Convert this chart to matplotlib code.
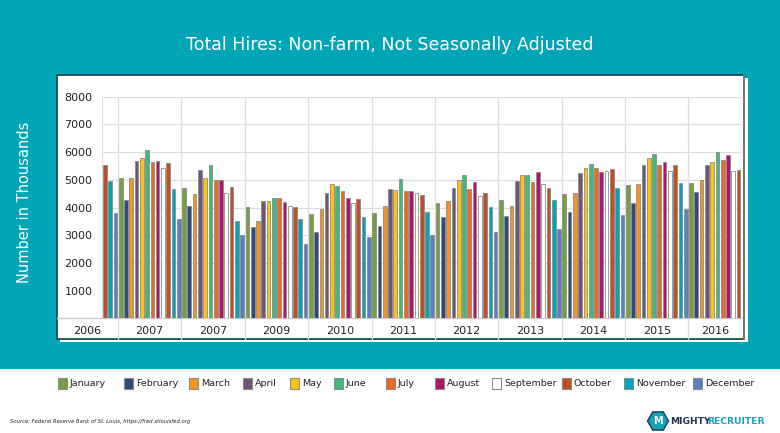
import numpy as np
import matplotlib
matplotlib.use("Agg")
import matplotlib.pyplot as plt
from matplotlib.patches import Rectangle, RegularPolygon
import matplotlib.transforms as mtransforms

# ---------------- data (thousands of hires) ----------------
months = ["January", "February", "March", "April", "May", "June", "July",
          "August", "September", "October", "November", "December"]
month_colors = ["#76A03A", "#2F4A7C", "#F7941D", "#6E5678", "#FFC20E", "#3DBB78",
                "#F26522", "#B0146B", "#FFFFFF", "#C0501F", "#00A5BA", "#5B80C0"]

hires_2006 = [5540, 4940, 3800]  # Oct-Dec
hires_2007 = [5080, 4280, 5060, 5690, 5780, 6070, 5640, 5690, 5420, 5590, 4650, 3590]
hires_2008 = [4720, 4070, 4480, 5370, 5080, 5540, 4980, 4980, 4540, 4750, 3520, 3010]
hires_2009 = [4020, 3300, 3510, 4250, 4220, 4330, 4330, 4190, 4040, 4010, 3570, 2690]
hires_2010 = [3760, 3100, 3940, 4540, 4840, 4760, 4580, 4340, 4170, 4310, 3670, 2950]
hires_2011 = [3810, 3330, 4070, 4670, 4640, 5040, 4580, 4610, 4510, 4450, 3840, 3010]
hires_2012 = [4160, 3650, 4220, 4720, 5000, 5190, 4670, 4930, 4420, 4540, 4020, 3110]
hires_2013 = [4270, 3700, 4060, 4960, 5170, 5160, 4930, 5280, 4860, 4700, 4280, 3240]
hires_2014 = [4470, 3820, 4510, 5230, 5420, 5580, 5410, 5280, 5310, 5400, 4690, 3730]
hires_2015 = [4820, 4160, 4840, 5540, 5780, 5940, 5520, 5650, 5300, 5530, 4890, 3930]
hires_2016 = [4870, 4550, 5010, 5520, 5660, 5990, 5710, 5880, 5300, 5370]  # Jan-Oct

year_labels = ["2006", "2007", "2007", "2009", "2010", "2011", "2012",
               "2013", "2014", "2015", "2016"]
y_ticks = [1000, 2000, 3000, 4000, 5000, 6000, 7000, 8000]

title = "Total Hires: Non-farm, Not Seasonally Adjusted"
ylabel = "Number in Thousands"
source = "Source: Federal Reserve Bank of St. Louis, https://fred.stlouisfed.org"

values = np.array(hires_2006 + hires_2007 + hires_2008 + hires_2009 + hires_2010 +
                  hires_2011 + hires_2012 + hires_2013 + hires_2014 + hires_2015 +
                  hires_2016, dtype=float)
first_month = 9  # October (0-based)
month_idx = [(first_month + i) % 12 for i in range(len(values))]
bar_colors = [month_colors[m] for m in month_idx]

# ---------------- figure ----------------
W, H = 780, 433
TEAL = "#00A6B6"
fig = plt.figure(figsize=(W / 100, H / 100), dpi=100)
fig.patch.set_facecolor("white")

# background axes in pixel coordinates
bg = fig.add_axes([0, 0, 1, 1], zorder=-5)
bg.set_xlim(0, W)
bg.set_ylim(H, 0)
bg.axis("off")

bg.add_patch(Rectangle((0, 0), W, 369, facecolor=TEAL, edgecolor="none"))
# white panel with offset shadow
bg.add_patch(Rectangle((60, 78), 688, 264, facecolor="white", edgecolor="none"))
bg.add_patch(Rectangle((57, 75), 687, 264, facecolor="white", edgecolor="#1d4a50", lw=1.3))
bg.plot([744, 744], [75, 339], color="#7a7a7a", lw=1.3)

bg.text(390, 45, title, color="white", fontsize=12.5, ha="center", va="center",
        family="DejaVu Sans")
bg.text(25, 202, ylabel, color="white", fontsize=10.5, rotation=90,
        ha="center", va="center", family="DejaVu Sans")

# ---------------- main axes ----------------
x0, x1 = 102.2, 741.2
ytop, ybot = 96.7, 318.3
ax = fig.add_axes([x0 / W, 1 - ybot / H, (x1 - x0) / W, (ybot - ytop) / H], zorder=2)
ax.patch.set_alpha(0)
n = len(values)
ax.set_xlim(0, n)
ax.set_ylim(0, 8000)
for s in ax.spines.values():
    s.set_visible(False)

ax.set_yticks(y_ticks)
ax.set_yticklabels([str(t) for t in y_ticks], fontsize=8, color="#222222")
ax.tick_params(axis="y", length=0, pad=7)
ax.set_xticks([])

for t in y_ticks:
    ax.axhline(t, color="#dddddd", lw=0.9, zorder=0)
ax.axvline(0, color="#dddddd", lw=0.9, zorder=0)

# vertical separators at January of each year, extending into label row
blend = mtransforms.blended_transform_factory(ax.transData, fig.transFigure)
jan_pos = [i for i in range(n) if month_idx[i] == 0]
for p in jan_pos:
    ax.plot([p, p], [1 - ytop / H, 1 - 340 / H], transform=blend, color="#dddddd",
            lw=0.9, clip_on=False, zorder=0)
# baseline extends to panel edge
px_per = (x1 - x0) / n
left_data = (57 - x0) / px_per
ax.plot([left_data, n], [0, 0], color="#cccccc", lw=1.0, clip_on=False, zorder=1)

# bars
xs = np.arange(n) + 0.5
ax.bar(xs, values, width=0.7, color=bar_colors, edgecolor="#8c8c8c", lw=0.6, zorder=3)

# year labels centered in visible year bands
bounds = [left_data] + jan_pos + [n]
for k, lab in enumerate(year_labels):
    c = (bounds[k] + bounds[k + 1]) / 2
    ax.text(c, 1 - 331 / H, lab, transform=blend, ha="center", va="center",
            fontsize=8, color="#222222", clip_on=False)

# ---------------- legend ----------------
swatch_x = [62, 128, 193, 247, 294, 338, 390, 439, 496, 566, 628, 697]
for xm, name, col in zip(swatch_x, months, month_colors):
    bg.add_patch(Rectangle((xm - 4, 378), 8.5, 11, facecolor=col, edgecolor="#8a8a8a", lw=0.8))
    bg.text(xm + 8, 384, name, fontsize=6.8, color="#222222", ha="left", va="center")

bg.text(10, 422, source, fontsize=3.8, style="italic", color="#222222", ha="left", va="center")

# logo
bg.add_patch(RegularPolygon((658, 421), numVertices=6, radius=10.5, orientation=np.pi / 6,
                            facecolor="#13A3B8", edgecolor="#1F3550", lw=1.0))
bg.text(658, 421.5, "M", fontsize=7, fontweight="bold", color="white", ha="center", va="center")
bg.text(670, 421, "MIGHTY", fontsize=6.6, fontweight="bold", color="#1F3550",
        ha="left", va="center")
bg.text(707, 421, "RECRUITER", fontsize=6.6, fontweight="bold", color="#13A3B8",
        ha="left", va="center")

fig.savefig("out.png", dpi=100)
